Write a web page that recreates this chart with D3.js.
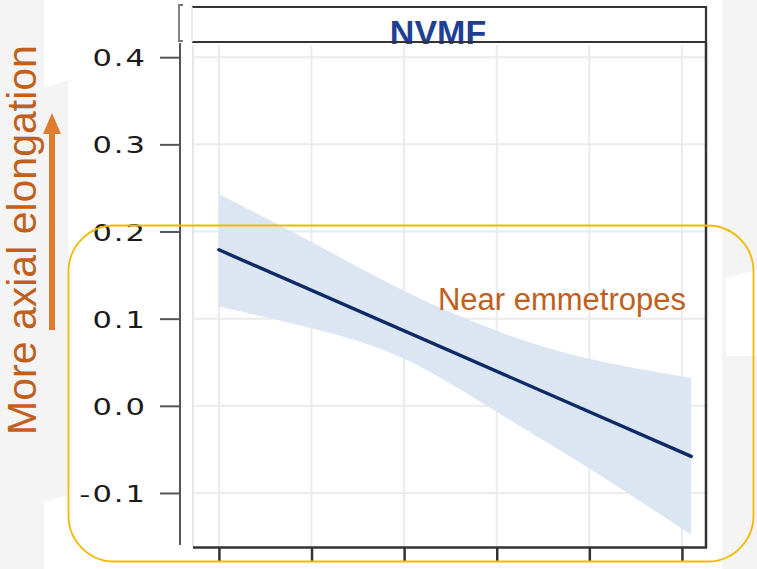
<!DOCTYPE html>
<html>
<head>
<meta charset="utf-8">
<script src="https://cdn.jsdelivr.net/npm/d3@7"></script>
<style>
  html, body { margin: 0; padding: 0; background: #fff; }
  svg { display: block; font-family: "Liberation Sans", Arial, sans-serif; }
</style>
</head>
<body>
<div id="chart"></div>
<script>
// chart values
var yTicks = [0.4, 0.3, 0.2, 0.1, 0.0, -0.1];
var yTickLabels = ["0.4", "0.3", "0.2", "0.1", "0.0", "-0.1"];
var xTicks = [0, 1, 2, 3, 4, 5];
var fitX = [0, 5.1];
var fitY = [0.179, -0.058];
var bandX = [0, 1, 2, 3, 4, 5.1];
var bandUpper = [0.243, 0.188, 0.132, 0.086, 0.054, 0.032];
var bandLower = [0.114, 0.089, 0.054, -0.007, -0.072, -0.148];
var panelTitle = "NVMF";
var yLabel = "More axial elongation";
var note = "Near emmetropes";

function init() {
    var width = 757;
    var height = 569;

    var svg = d3.select("#chart")
        .append("svg")
        .attr("width", width)
        .attr("height", height);

    // slide background bits
    svg.append("rect").attr("x", 0).attr("y", 0).attr("width", 44).attr("height", height).attr("fill", "#f4f4f4");
    svg.append("polygon").attr("points", "44,88 68,80 68,495 44,502").attr("fill", "#f4f4f4");
    svg.append("rect").attr("x", 722).attr("y", 0).attr("width", 35).attr("height", height).attr("fill", "#f4f4f4");
    svg.append("polygon").attr("points", "726,278 757,270 757,356 726,356").attr("fill", "#fff");

    // panel area
    var left = 193, right = 706, top = 45, bottom = 547;

    var x = d3.scaleLinear()
        .domain([-0.28, 5.26])
        .range([left, right]);

    var y = d3.scaleLinear()
        .domain([-0.162, 0.414])
        .range([bottom, top]);

    // gridlines
    svg.append("g")
        .selectAll("line")
        .data(yTicks)
        .enter()
        .append("line")
        .attr("x1", left).attr("x2", right)
        .attr("y1", d => y(d)).attr("y2", d => y(d))
        .attr("stroke", "#ebebeb")
        .attr("stroke-width", 2);

    svg.append("g")
        .selectAll("line")
        .data(xTicks)
        .enter()
        .append("line")
        .attr("x1", d => x(d)).attr("x2", d => x(d))
        .attr("y1", top).attr("y2", bottom)
        .attr("stroke", "#ebebeb")
        .attr("stroke-width", 2);

    svg.append("line")
        .attr("x1", left).attr("x2", left)
        .attr("y1", top).attr("y2", bottom)
        .attr("stroke", "#e6e6e6").attr("stroke-width", 2);

    // confidence band
    var band = bandX.map((d, i) => ({ x: d, lo: bandLower[i], hi: bandUpper[i] }));
    var area = d3.area()
        .x(d => x(d.x))
        .y0(d => y(d.lo))
        .y1(d => y(d.hi))
        .curve(d3.curveNatural);

    svg.append("path")
        .datum(band)
        .attr("d", area)
        .attr("fill", "#dce6f2");

    // fitted line
    var fit = fitX.map((d, i) => ({ x: d, y: fitY[i] }));
    svg.append("path")
        .datum(fit)
        .attr("d", d3.line().x(d => x(d.x)).y(d => y(d.y)))
        .attr("fill", "none")
        .attr("stroke", "#0d2a66")
        .attr("stroke-width", 3.4)
        .attr("stroke-linecap", "round");

    // panel border right + x axis
    svg.append("line")
        .attr("x1", right).attr("x2", right)
        .attr("y1", 42).attr("y2", bottom + 1)
        .attr("stroke", "#333").attr("stroke-width", 2.5);

    var xAxis = svg.append("g")
        .attr("transform", `translate(0, ${bottom})`)
        .call(d3.axisBottom(x).tickValues(xTicks).tickSize(15).tickFormat("").tickSizeOuter(0));
    xAxis.select(".domain")
        .attr("d", `M${left},0.5H${right + 1}`)
        .attr("stroke", "#333").attr("stroke-width", 2.5);
    xAxis.selectAll(".tick line").attr("stroke", "#333").attr("stroke-width", 2.5);

    // y axis (sits left of the panel)
    var yAxis = svg.append("g")
        .attr("transform", "translate(180, 0)")
        .call(d3.axisLeft(y).tickValues(yTicks).tickSize(20).tickSizeOuter(0)
            .tickFormat((d, i) => yTickLabels[i]));
    yAxis.select(".domain")
        .attr("d", `M0,${top - 2}V${bottom - 2}`)
        .attr("stroke", "#555").attr("stroke-width", 2);
    yAxis.selectAll(".tick line").attr("stroke", "#555").attr("stroke-width", 2);
    yAxis.selectAll(".tick text")
        .attr("x", 0)
        .attr("dy", null)
        .attr("transform", "translate(-33, 8.5) scale(1.33, 1)")
        .attr("font-size", "23px")
        .attr("font-family", "'DejaVu Sans', sans-serif")
        .attr("fill", "#1a1a1a")
        .style("letter-spacing", "1.5px");

    // strip header
    svg.append("rect")
        .attr("x", 192).attr("y", 7)
        .attr("width", right - 192).attr("height", 35)
        .attr("fill", "#fff")
        .attr("stroke", "none");

    svg.append("text")
        .attr("x", 438)
        .attr("y", 44)
        .attr("text-anchor", "middle")
        .attr("font-size", "34px")
        .attr("font-weight", "bold")
        .attr("fill", "#1f3f94")
        .text(panelTitle);

    svg.append("path")
        .attr("d", `M192,7H${right}V42M192,42H${right}`)
        .attr("fill", "none")
        .attr("stroke", "#333").attr("stroke-width", 2.2);
    svg.append("line")
        .attr("x1", 192).attr("x2", 192).attr("y1", 7).attr("y2", 42)
        .attr("stroke", "#e6e6e6").attr("stroke-width", 1.5);

    // little bracket left of strip
    svg.append("path")
        .attr("d", "M183,5H179V41H183")
        .attr("fill", "none")
        .attr("stroke", "#777").attr("stroke-width", 1.8);

    // highlight box
    svg.append("rect")
        .attr("x", 68.5).attr("y", 225.5)
        .attr("width", 685).attr("height", 336)
        .attr("rx", 46).attr("ry", 46)
        .attr("fill", "none")
        .attr("stroke", "#f5b800")
        .attr("stroke-width", 1.8);

    svg.append("text")
        .attr("x", 686)
        .attr("y", 310)
        .attr("text-anchor", "end")
        .attr("font-size", "31px")
        .attr("fill", "#c0601c")
        .text(note);

    // y label with arrow
    svg.append("text")
        .attr("transform", "translate(36, 240) rotate(-90)")
        .attr("text-anchor", "middle")
        .attr("font-size", "41px")
        .attr("fill", "#c0601c")
        .text(yLabel);

    svg.append("line")
        .attr("x1", 52).attr("x2", 52)
        .attr("y1", 330).attr("y2", 132)
        .attr("stroke", "#e07b30")
        .attr("stroke-width", 6);
    svg.append("polygon")
        .attr("points", "43,134 61,134 52,113")
        .attr("fill", "#e07b30");
}

window.onload = init;
</script>
</body>
</html>
